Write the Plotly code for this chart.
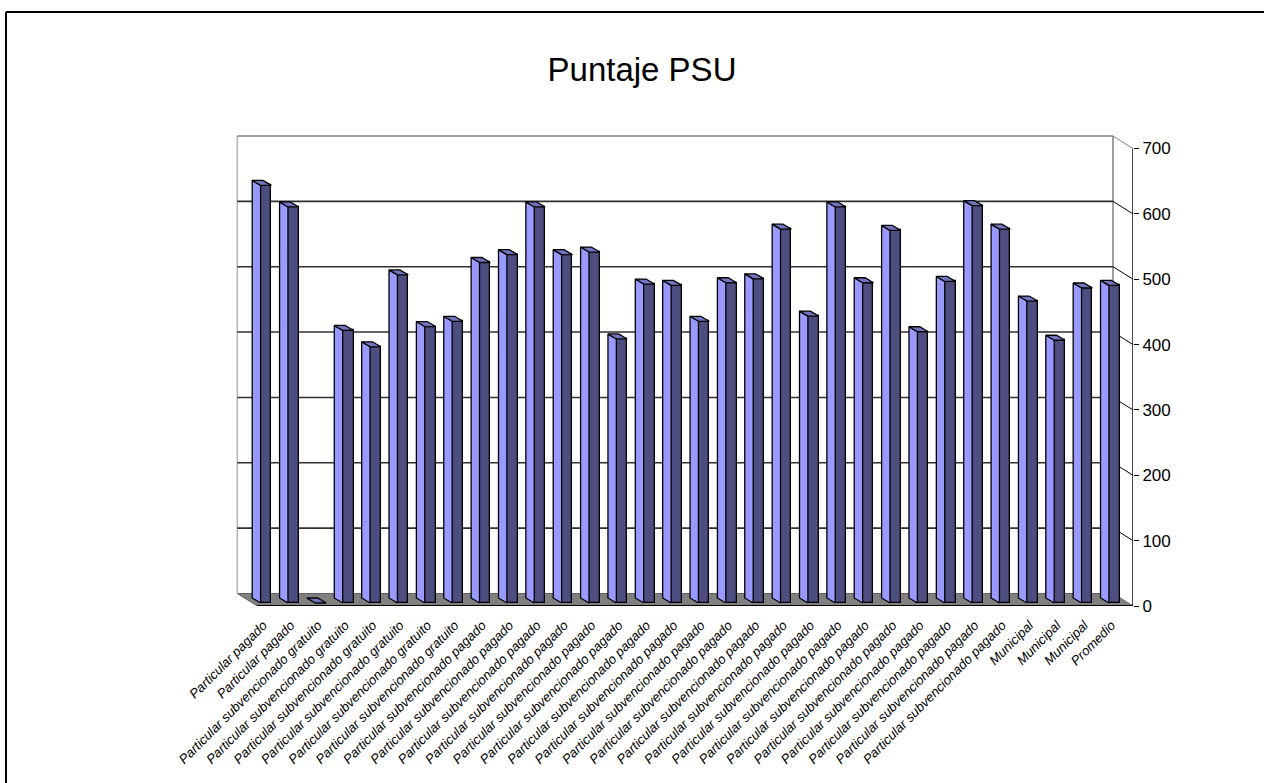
import plotly.graph_objects as go

TITLE = "Puntaje PSU"
categories = (
    ["Particular pagado"] * 2
    + ["Particular subvencionado gratuito"] * 6
    + ["Particular subvencionado pagado"] * 20
    + ["Municipal"] * 3
    + ["Promedio"]
)
scores = [639, 606, 0, 417, 392, 502, 423, 431, 521, 533, 606, 533, 537, 404,
          488, 486, 431, 490, 496, 572, 439, 606, 490, 570, 415, 492, 608, 572,
          462, 402, 482, 486]
y_ticks = [0, 100, 200, 300, 400, 500, 600, 700]

# canvas / projection constants (pixels)
W, H = 1264, 783
PX_L, PX_R, PX_T, PX_B = 230, 1133, 130, 606
PX_X0 = 257.3
STEP = (PX_R - PX_X0) / len(categories)
PX_PER_UNIT = 457.5 / 700
xmin = (PX_L - PX_X0) / STEP
ymax = (PX_B - PX_T) / PX_PER_UNIT
xu = lambda px: px / STEP
yu = lambda px: px / PX_PER_UNIT

WALL_DX, WALL_DY = xu(20), yu(12.5)
BASE = yu(3)
BAR_W = xu(10.8)
BAR_C = xu(8.7)
DX, DY = xu(8.4), yu(5)

DARK, LIGHT, TOP = "#4d4d80", "#9999ff", "#7373bf"

n = len(categories)
xs = [i + BAR_C for i in range(n)]

side_x, side_y, top_x, top_y = [], [], [], []
for x, v in zip(xs, scores):
    l = x - BAR_W / 2
    r = x + BAR_W / 2
    t = BASE + v
    side_x += [l, l, l - DX, l - DX, l, None]
    side_y += [BASE, t, t + DY, BASE + DY, BASE, None]
    top_x += [l, r, r - DX, l - DX, l, None]
    top_y += [t, t, t + DY, t + DY, t, None]

tick_x, tick_y = [], []
for i in range(n):
    tick_x += [i, i, None]
    tick_y += [0, -yu(7), None]

fig = go.Figure()
fig.add_bar(x=xs, y=scores, base=BASE, width=BAR_W,
            marker=dict(color=DARK, line=dict(color="#000000", width=1.3)),
            hoverinfo="skip", showlegend=False)
outline = dict(color="#000000", width=1.3)
fig.add_scatter(x=side_x, y=side_y, mode="lines", fill="toself", fillcolor=LIGHT,
                line=outline, hoverinfo="skip", showlegend=False)
fig.add_scatter(x=top_x, y=top_y, mode="lines", fill="toself", fillcolor=TOP,
                line=outline, hoverinfo="skip", showlegend=False)
# category tick marks below the floor edge
fig.add_scatter(x=tick_x, y=tick_y, mode="lines", line=dict(color="#000000", width=1),
                hoverinfo="skip", showlegend=False, cliponaxis=False)
# front edge of the floor and the value axis
fig.add_scatter(x=[0, n], y=[0, 0], mode="lines",
                line=dict(color="#000000", width=2), hoverinfo="skip",
                showlegend=False, cliponaxis=False)
fig.add_scatter(x=[n, n], y=[0, y_ticks[-1]], mode="lines",
                line=dict(color="#000000", width=1.4), hoverinfo="skip",
                showlegend=False, cliponaxis=False)
# carrier for the shifted label axis
fig.add_scatter(x=[0], y=[0], xaxis="x2", mode="markers", marker=dict(opacity=0),
                hoverinfo="skip", showlegend=False)

wl, wr = -WALL_DX, n - WALL_DX
shapes = []
floor = f"M {wl} {WALL_DY} L {wr} {WALL_DY} L {n} 0 L 0 0 Z"
shapes.append(dict(type="path", path=floor, xref="x", yref="y", layer="below",
                   fillcolor="#808080", line=dict(color="#606060", width=1)))
line = lambda x0, y0, x1, y1, c, w: dict(type="line", xref="x", yref="y", layer="below",
                                          x0=x0, y0=y0, x1=x1, y1=y1, line=dict(color=c, width=w))
top_wall = y_ticks[-1] + WALL_DY
shapes.append(line(wl, WALL_DY, wl, top_wall, "#b4b4b4", 1.5))
shapes.append(line(wr, WALL_DY, wr, top_wall, "#808080", 1.5))
for t in y_ticks[1:]:
    last = t == y_ticks[-1]
    col = "#808080" if last else "#303030"
    shapes.append(line(wl, t + WALL_DY, wr, t + WALL_DY, col, 1.6))
for t in y_ticks:
    col = "#808080" if t in (y_ticks[0], y_ticks[-1]) else "#000000"
    shapes.append(line(wr, t + WALL_DY, n, t, col, 1))

# outer chart frame (top and left edges only are on screen)
pw, ph = PX_R - PX_L, PX_B - PX_T
fx = lambda px: (px - PX_L) / pw
fy = lambda py: (PX_B - py) / ph
frame = dict(color="#000000", width=2)
shapes.append(dict(type="line", xref="paper", yref="paper", x0=fx(6), x1=fx(W),
                   y0=fy(12), y1=fy(12), line=frame))
shapes.append(dict(type="line", xref="paper", yref="paper", x0=fx(6), x1=fx(6),
                   y0=fy(12), y1=fy(H), line=frame))

label_shift = xu(6)
fig.update_layout(
    width=W, height=H, autosize=False,
    margin=dict(l=PX_L, r=W - PX_R, t=PX_T, b=H - PX_B, pad=0),
    paper_bgcolor="#ffffff", plot_bgcolor="rgba(0,0,0,0)",
    font=dict(family="Liberation Sans, Arial, sans-serif", color="#000000"),
    title=dict(text=TITLE, x=642 / W, xanchor="center", y=1 - 69 / H, yanchor="middle",
               font=dict(size=33)),
    shapes=shapes, bargap=0,
    xaxis=dict(range=[xmin, n], showticklabels=False, ticks="",
               showgrid=False, zeroline=False, showline=False),
    xaxis2=dict(range=[xmin, n], overlaying="x", anchor="y", side="bottom",
                tickmode="array", tickvals=[i + label_shift for i in range(n)],
                ticktext=categories, tickangle=-45, ticks="", ticklen=0,
                ticklabelstandoff=8,
                tickfont=dict(size=13.2, family="Liberation Sans, Arial, sans-serif", style="italic"),
                showgrid=False, zeroline=False, showline=False),
    yaxis=dict(range=[0, ymax], side="right", tickmode="array", tickvals=y_ticks,
               ticks="outside", ticklen=5, tickwidth=1, tickcolor="#000000",
               tickfont=dict(size=17), showgrid=False, zeroline=False, showline=False),
)
fig.write_html("out.html", config=dict(displayModeBar=False),
               post_script="document.body.style.margin='0';document.body.style.overflow='hidden';")
